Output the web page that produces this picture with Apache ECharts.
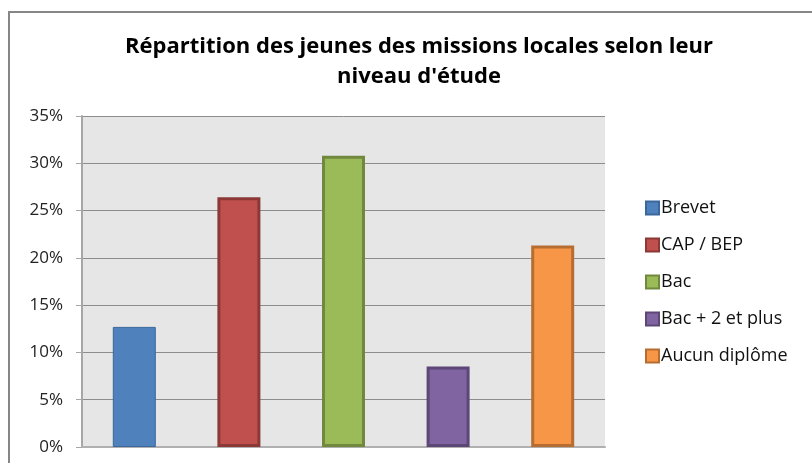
<!DOCTYPE html>
<html>
<head>
<meta charset="utf-8">
<script src="https://cdn.jsdelivr.net/npm/echarts@6/dist/echarts.min.js"></script>
<style>
  html, body { margin: 0; padding: 0; background: #fff; }
  #chart { width: 812px; height: 463px; }
</style>
</head>
<body>
<div id="chart"></div>
<script>
// niveaux d'étude
var niveaux = ['Brevet', 'CAP / BEP', 'Bac', 'Bac + 2 et plus', 'Aucun diplôme'];
var parts = [12.7, 26.4, 30.8, 8.5, 21.3];
var yTicks = [0, 5, 10, 15, 20, 25, 30, 35];

var fills = ['#4f81bd', '#c0504d', '#9bbb59', '#8064a2', '#f79646'];
var borders = ['#3a679c', '#8c3836', '#71893f', '#5c4776', '#b66d31'];
var borderW = [1, 3, 3, 3, 3];

var police = '"Open Sans", "Noto Sans", sans-serif';

var series = niveaux.map(function (n, i) {
    var d = niveaux.map(function (x, j) { return j === i ? parts[i] : '-'; });
    return {
        name: n,
        type: 'bar',
        stack: 'tous',
        barWidth: 43,
        data: d,
        itemStyle: {
            color: fills[i],
            borderColor: borders[i],
            borderWidth: borderW[i]
        }
    };
});

var chart = echarts.init(document.getElementById('chart'));
chart.setOption({
    animation: false,
    title: {
        text: 'Répartition des jeunes des missions locales selon leur\nniveau d\'étude',
        left: 414,
        textAlign: 'center',
        top: 27,
        textStyle: {
            fontFamily: police,
            fontSize: 22,
            fontWeight: 'bold',
            color: '#000',
            lineHeight: 30
        }
    },
    graphic: [{
        type: 'rect',
        shape: { x: 9, y: 12, width: 820, height: 470 },
        style: { fill: null, stroke: '#868686', lineWidth: 2 },
        silent: true
    }],
    legend: {
        orient: 'vertical',
        left: 640,
        top: 194,
        itemWidth: 13,
        itemHeight: 13,
        itemGap: 19,
        icon: 'rect',
        data: niveaux,
        textStyle: { fontFamily: police, fontSize: 18, color: '#111', padding: [0, 0, 0, -3] }
    },
    grid: {
        left: 82,
        right: 207,
        top: 116,
        bottom: 16,
        show: true,
        backgroundColor: '#e6e6e6',
        borderWidth: 0
    },
    xAxis: {
        type: 'category',
        data: niveaux,
        axisLine: { show: true, lineStyle: { color: '#b0b0b0', width: 2 } },
        axisTick: { show: false },
        axisLabel: { show: false }
    },
    yAxis: {
        type: 'value',
        min: yTicks[0],
        max: yTicks[yTicks.length - 1],
        interval: 5,
        axisLine: { show: true, lineStyle: { color: '#a6a6a6', width: 2 } },
        axisTick: { show: true, length: 6, inside: false, lineStyle: { color: '#a6a6a6' } },
        axisLabel: {
            formatter: '{value}%',
            fontFamily: police,
            fontSize: 17,
            color: '#222',
            margin: 19
        },
        splitLine: { lineStyle: { color: '#8c8c8c', width: 1 } }
    },
    series: series
});
</script>
</body>
</html>
